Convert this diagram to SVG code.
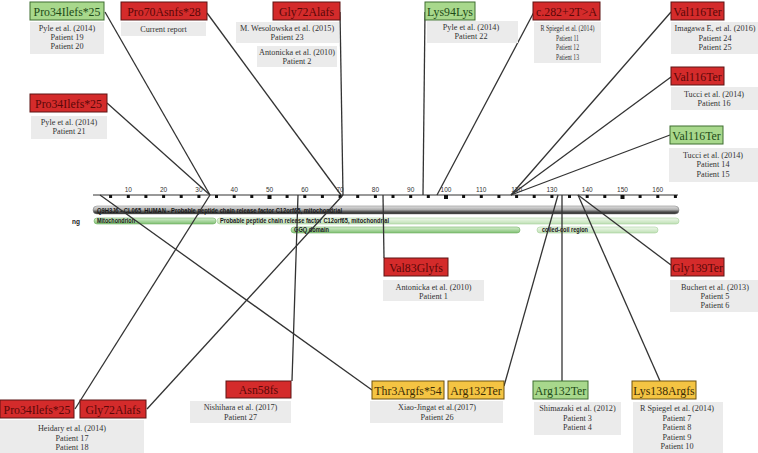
<svg xmlns="http://www.w3.org/2000/svg" width="758" height="453" viewBox="0 0 758 453">
<defs>
<linearGradient id="gGray" x1="0" y1="0" x2="0" y2="1">
<stop offset="0" stop-color="#e2e2e2"/><stop offset="0.45" stop-color="#b0b0b0"/><stop offset="0.75" stop-color="#4a4a4a"/><stop offset="1" stop-color="#2a2a2a"/>
</linearGradient>
<linearGradient id="gGreenD" x1="0" y1="0" x2="0" y2="1">
<stop offset="0" stop-color="#d6efcf"/><stop offset="1" stop-color="#7fbf72"/>
</linearGradient>
<linearGradient id="gGreenL" x1="0" y1="0" x2="0" y2="1">
<stop offset="0" stop-color="#eef8ea"/><stop offset="1" stop-color="#bfe0b5"/>
</linearGradient>
<style>
.mr{fill:#d42b2b;stroke:#5c1515;stroke-width:1}
.mg{fill:#a8d88c;stroke:#3e6e30;stroke-width:1}
.my{fill:#f4c443;stroke:#6e520f;stroke-width:1}
.mt{font-family:"Liberation Serif","Times New Roman",serif;font-size:11.8px;text-anchor:middle}
.tr{fill:#5a0808}
.tg{fill:#1d4a17}
.ty{fill:#3b2b04}
.ib{fill:#ebebeb}
.it{font-family:"Liberation Serif","Times New Roman",serif;font-size:8.2px;text-anchor:middle;fill:#333333}
.ax{font-family:"Liberation Sans",Arial,sans-serif;font-size:6.5px;text-anchor:middle;fill:#333333}
.bt{font-family:"Liberation Sans",Arial,sans-serif;font-size:6.5px;font-weight:bold;fill:#1a1a1a}
.con line{stroke:#333333;stroke-width:1.3;fill:none}
.tk{fill:#111111}
</style>
</defs>
<rect width="758" height="453" fill="#ffffff"/>

<g id="protein-track">
<line x1="93" y1="195" x2="678" y2="195" stroke="#333333" stroke-width="1"/>
<g class="tk">
<rect x="109.1" y="195" width="3" height="3"/><rect x="126.8" y="195" width="3" height="3"/><rect x="144.4" y="195" width="3" height="3"/><rect x="162.1" y="195" width="3" height="3"/><rect x="179.7" y="195" width="3" height="3"/><rect x="197.4" y="195" width="3" height="3"/><rect x="215.0" y="195" width="3" height="3"/><rect x="232.7" y="195" width="3" height="3"/><rect x="250.3" y="195" width="3" height="3"/><rect x="267.5" y="195" width="4" height="4"/><rect x="285.6" y="195" width="3" height="3"/><rect x="303.3" y="195" width="3" height="3"/><rect x="320.9" y="195" width="3" height="3"/><rect x="338.6" y="195" width="3" height="3"/><rect x="356.2" y="195" width="3" height="3"/><rect x="373.9" y="195" width="3" height="3"/><rect x="391.5" y="195" width="3" height="3"/><rect x="409.2" y="195" width="3" height="3"/><rect x="426.8" y="195" width="3" height="3"/><rect x="444.0" y="195" width="4" height="4"/><rect x="462.1" y="195" width="3" height="3"/><rect x="479.8" y="195" width="3" height="3"/><rect x="497.4" y="195" width="3" height="3"/><rect x="515.1" y="195" width="3" height="3"/><rect x="532.7" y="195" width="3" height="3"/><rect x="550.4" y="195" width="3" height="3"/><rect x="568.0" y="195" width="3" height="3"/><rect x="585.7" y="195" width="3" height="3"/><rect x="603.3" y="195" width="3" height="3"/><rect x="620.5" y="195" width="4" height="4"/><rect x="638.6" y="195" width="3" height="3"/><rect x="656.3" y="195" width="3" height="3"/><rect x="673.9" y="195" width="3" height="3"/>
</g>
<g class="ax">
<text x="128.3" y="192">10</text><text x="163.6" y="192">20</text><text x="198.9" y="192">30</text><text x="234.2" y="192">40</text><text x="269.5" y="192">50</text><text x="304.8" y="192">60</text><text x="340.1" y="192">70</text><text x="375.4" y="192">80</text><text x="410.7" y="192">90</text><text x="446.0" y="192">100</text><text x="481.3" y="192">110</text><text x="516.6" y="192">120</text><text x="551.9" y="192">130</text><text x="587.2" y="192">140</text><text x="622.5" y="192">150</text><text x="657.8" y="192">160</text>
</g>
<rect x="93" y="206" width="586" height="8" rx="4" fill="url(#gGray)" stroke="#777777" stroke-width="0.5"/>
<text class="bt" x="97" y="212.5" textLength="245" lengthAdjust="spacingAndGlyphs">Q9H3J6 - CL065_HUMAN - Probable peptide chain release factor C12orf65, mitochondrial</text>
<text class="bt" x="72" y="224" font-weight="normal">ng</text>
<rect x="94" y="218" width="122" height="6" rx="3" fill="url(#gGreenD)" stroke="#6fae62" stroke-width="0.6"/>
<text class="bt" x="97" y="223.3" textLength="38" lengthAdjust="spacingAndGlyphs">Mitochondrion</text>
<rect x="217" y="218" width="462" height="6" rx="3" fill="url(#gGreenL)" stroke="#a6d09a" stroke-width="0.6"/>
<text class="bt" x="220" y="223.3" textLength="169" lengthAdjust="spacingAndGlyphs">Probable peptide chain release factor C12orf65, mitochondrial</text>
<rect x="291" y="227" width="229" height="6" rx="3" fill="url(#gGreenD)" stroke="#6fae62" stroke-width="0.6"/>
<text class="bt" x="294" y="232.4" textLength="35" lengthAdjust="spacingAndGlyphs">GGQ domain</text>
<rect x="537" y="227" width="121" height="6" rx="3" fill="url(#gGreenL)" stroke="#a6d09a" stroke-width="0.6"/>
<text class="bt" x="542" y="232.4" textLength="46" lengthAdjust="spacingAndGlyphs">coiled-coil region</text>
</g>

<g id="connectors" class="con">
<line x1="105" y1="12" x2="210" y2="195"/>
<line x1="107" y1="103" x2="210" y2="195"/>
<line x1="207" y1="13" x2="341" y2="195"/>
<line x1="340" y1="12" x2="343" y2="195"/>
<line x1="425" y1="12" x2="423" y2="195"/>
<line x1="534" y1="12" x2="437" y2="195"/>
<line x1="671" y1="12" x2="511" y2="195"/>
<line x1="671" y1="77" x2="511" y2="195"/>
<line x1="670" y1="135" x2="511" y2="195"/>
<line x1="210" y1="195" x2="75" y2="409"/>
<line x1="343" y1="195" x2="147" y2="409"/>
<line x1="298" y1="195" x2="292" y2="381"/>
<line x1="383" y1="195" x2="384" y2="258"/>
<line x1="100" y1="195" x2="372" y2="390"/>
<line x1="558" y1="195" x2="504" y2="386"/>
<line x1="562" y1="195" x2="562" y2="381"/>
<line x1="578" y1="195" x2="660" y2="381"/>
<line x1="578" y1="195" x2="671" y2="265"/>
</g>

<g id="n-pro34-green">
<rect class="mg" x="30" y="2" width="74" height="18"/>
<text class="mt tg" x="67" y="15.5">Pro34Ilefs*25</text>
<rect class="ib" x="30" y="22" width="74" height="32"/>
<text class="it" x="67" y="31">Pyle et al. (2014)</text>
<text class="it" x="67" y="40">Patient 19</text>
<text class="it" x="67" y="49">Patient 20</text>
</g>

<g id="n-pro70">
<rect class="mr" x="121" y="2" width="86" height="18"/>
<text class="mt tr" x="164" y="15.5">Pro70Asnfs*28</text>
<rect class="ib" x="121" y="22" width="85" height="14"/>
<text class="it" x="163.5" y="31.5">Current report</text>
</g>

<g id="n-pro34-red">
<rect class="mr" x="30" y="94" width="77" height="18"/>
<text class="mt tr" x="68.5" y="107.5">Pro34Ilefs*25</text>
<rect class="ib" x="31" y="116" width="76" height="23"/>
<text class="it" x="69" y="125">Pyle et al. (2014)</text>
<text class="it" x="69" y="134">Patient 21</text>
</g>

<g id="n-gly72-top">
<rect class="mr" x="273" y="2" width="67" height="18"/>
<text class="mt tr" x="306.5" y="15.5">Gly72Alafs</text>
<rect class="ib" x="236" y="22" width="103" height="21"/>
<text class="it" x="287" y="31">M. Wesolowska et al. (2015)</text>
<text class="it" x="287" y="40">Patient 23</text>
<rect class="ib" x="257" y="46" width="80" height="21"/>
<text class="it" x="297" y="55">Antonicka et al. (2010)</text>
<text class="it" x="297" y="64">Patient 2</text>
</g>

<g id="n-lys94">
<rect class="mg" x="425" y="2" width="50" height="18"/>
<text class="mt tg" x="450" y="15.5">Lys94Lys</text>
<rect class="ib" x="427" y="21" width="91" height="22"/>
<text class="it" x="471" y="30">Pyle et al. (2014)</text>
<text class="it" x="471" y="39">Patient 22</text>
</g>

<g id="n-c282">
<rect class="mr" x="533" y="2" width="67" height="18"/>
<text class="mt tr" x="566.5" y="15.5">c.282+2T&gt;A</text>
<rect class="ib" x="534" y="22" width="67" height="41"/>
<text class="it" x="567.5" y="31" textLength="54" lengthAdjust="spacingAndGlyphs">R Spiegel et al. (2014)</text>
<text class="it" x="567.5" y="40.5" textLength="23" lengthAdjust="spacingAndGlyphs">Patient 11</text>
<text class="it" x="567.5" y="50" textLength="23" lengthAdjust="spacingAndGlyphs">Patient 12</text>
<text class="it" x="567.5" y="59.5" textLength="23" lengthAdjust="spacingAndGlyphs">Patient 13</text>
</g>

<g id="n-val116-a">
<rect class="mr" x="671" y="2" width="53" height="18"/>
<text class="mt tr" x="697.5" y="15.5">Val116Ter</text>
<rect class="ib" x="671" y="22" width="87" height="32"/>
<text class="it" x="715" y="31">Imagawa E, et al. (2016)</text>
<text class="it" x="715" y="40.5">Patient 24</text>
<text class="it" x="715" y="50">Patient 25</text>
</g>

<g id="n-val116-b">
<rect class="mr" x="671" y="67" width="53" height="18"/>
<text class="mt tr" x="697.5" y="80.5">Val116Ter</text>
<rect class="ib" x="671" y="87" width="87" height="23"/>
<text class="it" x="714" y="97">Tucci et al. (2014)</text>
<text class="it" x="714" y="106">Patient 16</text>
</g>

<g id="n-val116-c">
<rect class="mg" x="670" y="126" width="53" height="18"/>
<text class="mt tg" x="696.5" y="139.5">Val116Ter</text>
<rect class="ib" x="669" y="148" width="89" height="34"/>
<text class="it" x="713" y="157.5">Tucci et al. (2014)</text>
<text class="it" x="713" y="167">Patient 14</text>
<text class="it" x="713" y="176.5">Patient 15</text>
</g>

<g id="n-val83">
<rect class="mr" x="384" y="258" width="64" height="18"/>
<text class="mt tr" x="416" y="271.5">Val83Glyfs</text>
<rect class="ib" x="383" y="280" width="101" height="21"/>
<text class="it" x="433.5" y="290">Antonicka et al. (2010)</text>
<text class="it" x="433.5" y="299">Patient 1</text>
</g>

<g id="n-gly139">
<rect class="mr" x="671" y="258" width="53" height="18"/>
<text class="mt tr" x="697.5" y="271.5">Gly139Ter</text>
<rect class="ib" x="670" y="280" width="88" height="32"/>
<text class="it" x="715" y="290">Buchert et al. (2013)</text>
<text class="it" x="715" y="299">Patient 5</text>
<text class="it" x="715" y="308">Patient 6</text>
</g>

<g id="n-asn58">
<rect class="mr" x="226" y="381" width="65" height="17"/>
<text class="mt tr" x="258.5" y="394">Asn58fs</text>
<rect class="ib" x="190" y="401" width="101" height="22"/>
<text class="it" x="240.5" y="410">Nishihara et al. (2017)</text>
<text class="it" x="240.5" y="420">Patient 27</text>
</g>

<g id="n-pro34-bottom">
<rect class="mr" x="0" y="400" width="74" height="18"/>
<text class="mt tr" x="37" y="413.5">Pro34Ilefs*25</text>
</g>

<g id="n-gly72-bottom">
<rect class="mr" x="80" y="400" width="66" height="18"/>
<text class="mt tr" x="113" y="413.5">Gly72Alafs</text>
</g>

<g id="info-heidary">
<rect class="ib" x="0" y="420" width="144" height="33"/>
<text class="it" x="72" y="431">Heidary et al. (2014)</text>
<text class="it" x="72" y="440.5">Patient 17</text>
<text class="it" x="72" y="450">Patient 18</text>
</g>

<g id="n-thr3">
<rect class="my" x="372" y="381" width="72" height="18"/>
<text class="mt ty" x="408" y="394.5">Thr3Argfs*54</text>
</g>

<g id="n-arg132-yellow">
<rect class="my" x="448" y="381" width="56" height="18"/>
<text class="mt ty" x="476" y="394.5">Arg132Ter</text>
</g>

<g id="info-xiao">
<rect class="ib" x="370" y="401" width="133" height="22"/>
<text class="it" x="437" y="410">Xiao-Jingat et al.(2017)</text>
<text class="it" x="437" y="420">Patient 26</text>
</g>

<g id="n-arg132-green">
<rect class="mg" x="533" y="381" width="55" height="18"/>
<text class="mt tg" x="560.5" y="394.5">Arg132Ter</text>
<rect class="ib" x="534" y="402" width="87" height="33"/>
<text class="it" x="577.5" y="411">Shimazaki et al. (2012)</text>
<text class="it" x="577.5" y="420.5">Patient 3</text>
<text class="it" x="577.5" y="430">Patient 4</text>
</g>

<g id="n-lys138">
<rect class="my" x="632" y="381" width="64" height="18"/>
<text class="mt ty" x="664" y="394.5">Lys138Argfs</text>
<rect class="ib" x="633" y="402" width="90" height="51"/>
<text class="it" x="677" y="411">R Spiegel et al. (2014)</text>
<text class="it" x="677" y="420.5">Patient 7</text>
<text class="it" x="677" y="430">Patient 8</text>
<text class="it" x="677" y="439.5">Patient 9</text>
<text class="it" x="677" y="449">Patient 10</text>
</g>
</svg>
